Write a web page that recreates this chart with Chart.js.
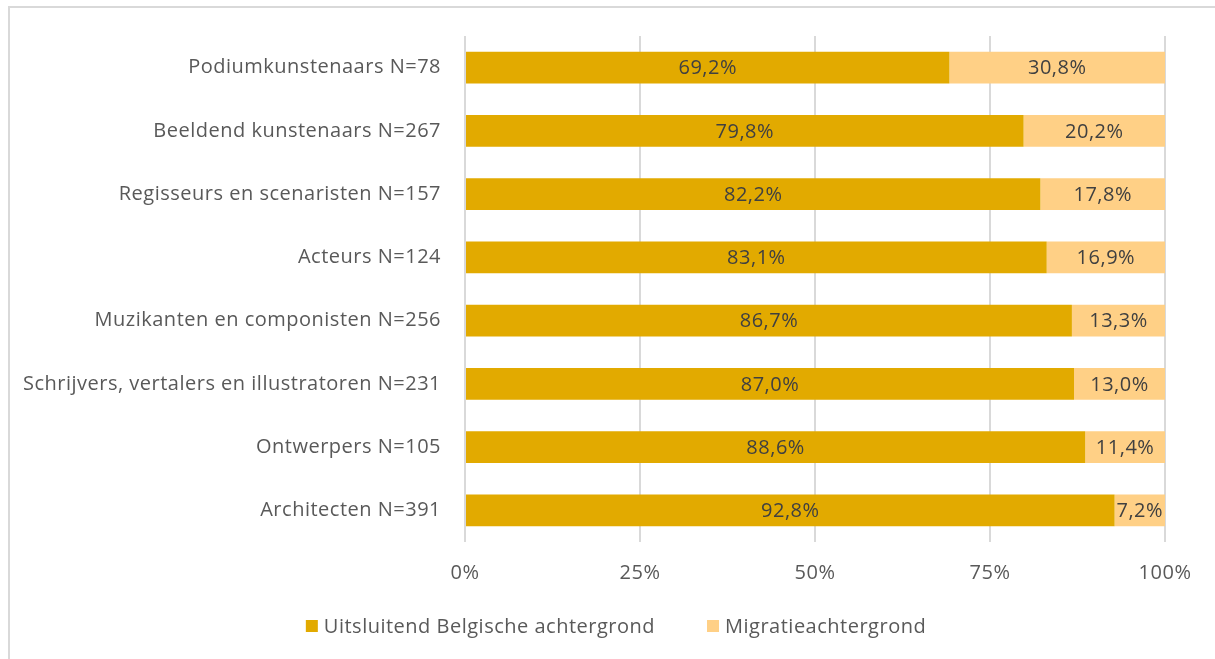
<!DOCTYPE html>
<html><head><meta charset="utf-8">
<script src="https://cdn.jsdelivr.net/npm/chart.js@4"></script>
<style>
html,body{margin:0;padding:0;background:#fff;overflow:hidden}
#frame{position:absolute;left:8px;top:6px;width:1220px;height:700px;border:2px solid #d9d9d9;border-width:2px 0 0 2px;box-sizing:border-box}
#wrap{position:absolute;left:0;top:0;width:1215px;height:659px}
</style></head>
<body>
<div id="frame"></div>
<div id="wrap"><canvas id="c" width="1215" height="659"></canvas></div>
<script>
const categories = [
  "Podiumkunstenaars N=78",
  "Beeldend kunstenaars N=267",
  "Regisseurs en scenaristen N=157",
  "Acteurs N=124",
  "Muzikanten en componisten N=256",
  "Schrijvers, vertalers en illustratoren N=231",
  "Ontwerpers N=105",
  "Architecten N=391"
];
const belgian = [69.2, 79.8, 82.2, 83.1, 86.7, 87.0, 88.6, 92.8];
const migration = [30.8, 20.2, 17.8, 16.9, 13.3, 13.0, 11.4, 7.2];
const seriesNames = ["Uitsluitend Belgische achtergrond", "Migratieachtergrond"];
const xTicks = [0, 25, 50, 75, 100];

const FONT = "'Open Sans', sans-serif";
const FS = 20;
const SPACING = '0.5px';
const PLOT_TOP = 35;
const PLOT_BOTTOM = 542;
const BOTTOM_PAD = 70;
const LEGEND_Y = 626;
const LEGEND_CX = 616;

const spacingPlugin = {
  id: 'spacing',
  beforeInit(chart) { chart.ctx.letterSpacing = SPACING; },
  beforeUpdate(chart) { chart.ctx.letterSpacing = SPACING; },
  beforeDraw(chart) { chart.ctx.letterSpacing = SPACING; }
};

const labelPlugin = {
  id: 'barLabels',
  afterDatasetsDraw(chart) {
    const ctx = chart.ctx;
    ctx.save();
    ctx.font = FS + "px " + FONT;
    ctx.fillStyle = "#404040";
    ctx.textAlign = "center";
    ctx.textBaseline = "middle";
    chart.data.datasets.forEach((ds, di) => {
      const meta = chart.getDatasetMeta(di);
      meta.data.forEach((el, i) => {
        const p = el.getCenterPoint();
        ctx.fillText(ds.data[i].toFixed(1).replace('.', ',') + '%', p.x, p.y + 1);
      });
    });
    ctx.restore();
  }
};

const legendPlugin = {
  id: 'customLegend',
  afterDraw(chart) {
    const ctx = chart.ctx;
    ctx.save();
    ctx.font = FS + "px " + FONT;
    ctx.textBaseline = "middle";
    ctx.textAlign = "left";
    const box = 12, gap = 6, between = 52;
    const items = chart.data.datasets.map(ds => ({ label: ds.label, color: ds.backgroundColor, w: ctx.measureText(ds.label).width }));
    const total = items.reduce((s, it) => s + box + gap + it.w, 0) + between * (items.length - 1);
    let x = LEGEND_CX - total / 2;
    items.forEach(it => {
      ctx.fillStyle = it.color;
      ctx.fillRect(x, LEGEND_Y - box / 2, box, box);
      ctx.fillStyle = '#595959';
      ctx.fillText(it.label, x + box + gap, LEGEND_Y + 1);
      x += box + gap + it.w + between;
    });
    ctx.restore();
  }
};

new Chart(document.getElementById('c'), {
  type: 'bar',
  data: {
    labels: categories,
    datasets: [
      { label: seriesNames[0], data: belgian, backgroundColor: '#E2AA00', borderWidth: 0, categoryPercentage: 0.5, barPercentage: 1.0 },
      { label: seriesNames[1], data: migration, backgroundColor: '#FFD086', borderWidth: 0, categoryPercentage: 0.5, barPercentage: 1.0 }
    ]
  },
  options: {
    indexAxis: 'y',
    responsive: false,
    animation: false,
    layout: { padding: { top: PLOT_TOP, right: 50, left: 0, bottom: BOTTOM_PAD } },
    scales: {
      x: {
        stacked: true, min: 0, max: 100,
        afterBuildTicks(scale) { scale.ticks = xTicks.map(v => ({ value: v })); },
        afterFit(scale) { scale.height = 659 - BOTTOM_PAD - PLOT_BOTTOM; },
        ticks: { callback: v => v + '%', color: '#595959', font: { family: FONT, size: FS }, padding: 19, maxRotation: 0 },
        grid: { color: '#d9d9d9', lineWidth: 2, drawTicks: false },
        border: { display: false }
      },
      y: {
        stacked: true,
        afterFit(scale) { scale.width = 465; },
        ticks: { color: '#595959', font: { family: FONT, size: FS }, padding: 24 },
        grid: { display: false, drawTicks: false },
        border: { display: false }
      }
    },
    plugins: {
      legend: { display: false },
      tooltip: { enabled: false }
    }
  },
  plugins: [spacingPlugin, labelPlugin, legendPlugin]
});
</script>
</body></html>
